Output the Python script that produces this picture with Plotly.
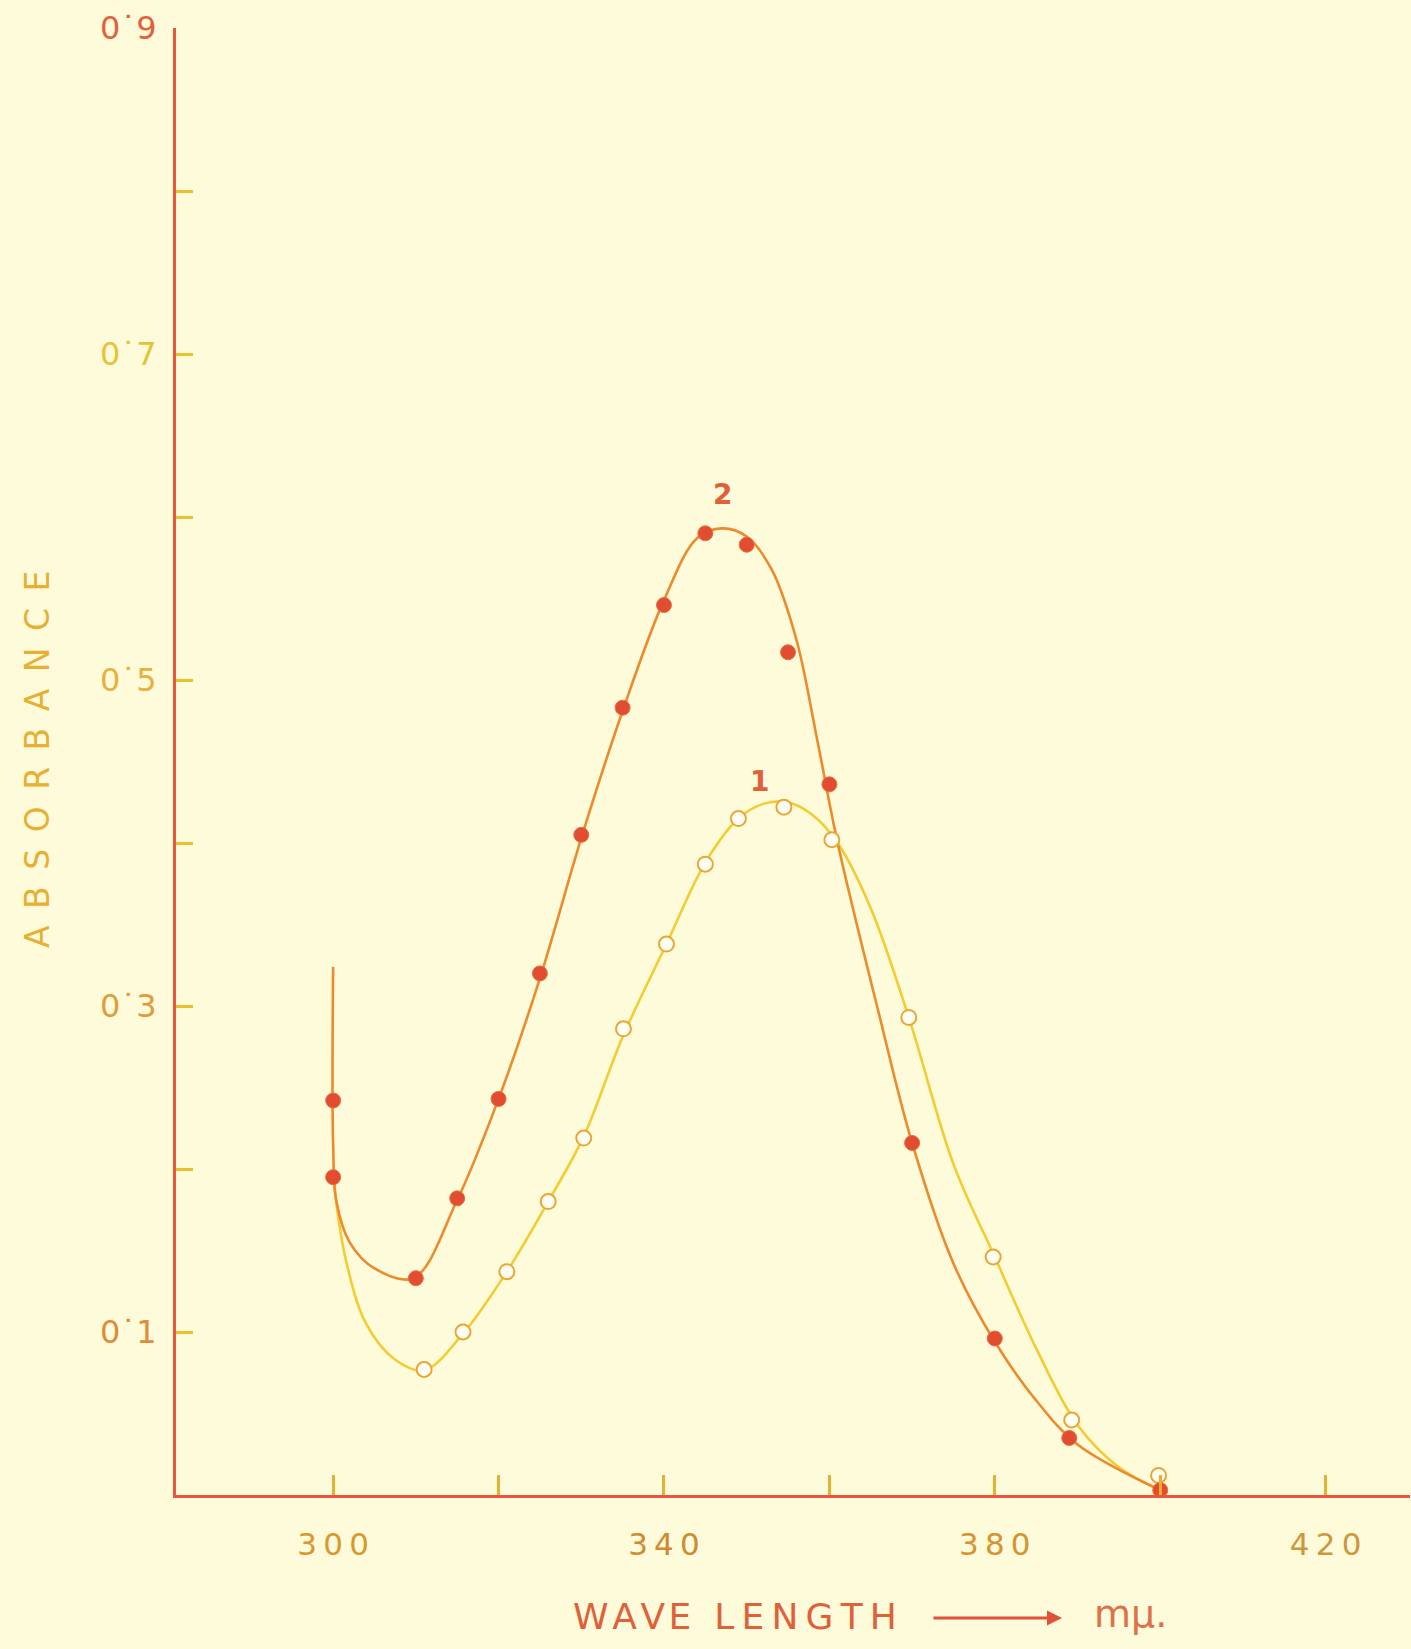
import plotly.graph_objects as go

# ---- data ----
# Curve 2 (filled dots)
c2_x = [300, 300, 310, 315, 320, 325, 330, 335, 340, 345, 350, 355, 360, 370, 380, 389, 400]
c2_y = [0.242, 0.195, 0.133, 0.182, 0.243, 0.320, 0.405, 0.483, 0.546, 0.590, 0.583, 0.517, 0.436, 0.216, 0.096, 0.035, 0.003]
# Curve 1 (open circles)
c1_x = [311, 315.7, 321, 326, 330.3, 335.1, 340.3, 345, 349, 354.5, 360.3, 369.6, 379.8, 389.3, 399.8]
c1_y = [0.077, 0.100, 0.137, 0.180, 0.219, 0.286, 0.338, 0.387, 0.415, 0.422, 0.402, 0.293, 0.146, 0.046, 0.012]

# hand-drawn fitted lines
c2_line_x = [300.0, 300.0, 300.4, 302.0, 305.0, 309.7, 315.0, 320.0, 325.0, 330.0, 335.0, 340.0, 344.0,
             347.0, 350.0, 353.0, 356.0, 358.5, 361.0, 366.0, 370.0, 375.0, 380.0, 385.0, 390.0, 400.0]
c2_line_y = [0.324, 0.215, 0.180, 0.155, 0.139, 0.133, 0.181, 0.243, 0.317, 0.403, 0.481, 0.549, 0.587,
             0.593, 0.588, 0.568, 0.525, 0.464, 0.400, 0.295, 0.216, 0.142, 0.094, 0.058, 0.031, 0.003]
c1_line_x = [300.0, 301.5, 304.0, 307.5, 311.0, 315.7, 321.0, 326.0, 330.3, 335.0, 340.3, 345.0, 349.0,
             352.0, 355.0, 358.0, 361.0, 365.0, 369.6, 375.0, 380.0, 385.0, 390.0, 395.0, 400.0]
c1_line_y = [0.195, 0.145, 0.105, 0.083, 0.0765, 0.099, 0.137, 0.180, 0.220, 0.281, 0.338, 0.388, 0.415,
             0.424, 0.425, 0.417, 0.400, 0.360, 0.293, 0.203, 0.146, 0.090, 0.043, 0.017, 0.003]

x_tickvals = [300, 320, 340, 360, 380, 400, 420]
x_ticktext = ["300", "", "340", "", "380", "", "420"]
y_tickvals = [0.1, 0.2, 0.3, 0.4, 0.5, 0.6, 0.7, 0.8, 0.9]
y_ticktext = ["0˙1", "", "0˙3", "", "0˙5", "", "0˙7", "", "0˙9"]
y_label_colors = ["#E08A3A", None, "#E39A3A", None, "#E8B040", None, "#E8C236", None, "#E4603C"]
x_label_colors = ["#D8982E", None, "#D08A30", None, "#D8922E", None, "#D0963A"]

BG = "#FEFBDA"
AXIS = "#E8573C"
FONT = "DejaVu Sans"
W, H = 1411, 1649
ML, MR, MT, MB = 176, 1, 28, 154

fig = go.Figure()
fig.add_trace(go.Scatter(x=c1_line_x, y=c1_line_y, mode="lines",
                         line=dict(color="#F2CC30", width=2.6, shape="spline", smoothing=1.0),
                         hoverinfo="skip", showlegend=False))
fig.add_trace(go.Scatter(x=c2_line_x, y=c2_line_y, mode="lines",
                         line=dict(color="#EC8A2C", width=2.6, shape="spline", smoothing=1.0),
                         hoverinfo="skip", showlegend=False))
fig.add_trace(go.Scatter(x=c1_x, y=c1_y, mode="markers",
                         marker=dict(symbol="circle", size=15, color="#FFFEF2",
                                     line=dict(color="#E9A636", width=2)),
                         showlegend=False))
fig.add_trace(go.Scatter(x=c2_x, y=c2_y, mode="markers",
                         marker=dict(symbol="circle", size=15, color="#E24C30",
                                     line=dict(color="#E8703A", width=1)),
                         showlegend=False))

def spaced(t, sep):
    return sep.join(list(t))

y_text = [f'<span style="color:{c}">{t}</span>' if t else "" for t, c in zip(y_ticktext, y_label_colors)]
x_text = [f'<span style="color:{c}">{spaced(t, chr(0x2009))}</span>' if t else "" for t, c in zip(x_ticktext, x_label_colors)]

fig.update_xaxes(range=[281, 430.2], showgrid=False, zeroline=False,
                 showline=True, linecolor=AXIS, linewidth=3,
                 ticks="inside", ticklen=20, tickwidth=2.5, tickcolor="#E8B030",
                 tickvals=x_tickvals, ticktext=x_text,
                 tickfont=dict(family=FONT, size=31, color="#D8922E"),
                 ticklabelstandoff=20)
fig.update_yaxes(range=[0, 0.9], showgrid=False, zeroline=False,
                 showline=True, linecolor=AXIS, linewidth=3,
                 ticks="inside", ticklen=17, tickwidth=2.5, tickcolor="#E8C030",
                 tickvals=y_tickvals, ticktext=y_text,
                 tickfont=dict(family=FONT, size=32, color="#E0903A"),
                 ticklabelstandoff=10)

pw = W - ML - MR
ph = H - MT - MB
def px(x):
    return (x - ML) / pw
def py(y):
    return 1 - (y - MT) / ph

annotations = [
    dict(text=spaced("ABSORBANCE", "\u2002"), x=px(37), y=py(760), xref="paper", yref="paper",
         showarrow=False, textangle=-90, xanchor="center", yanchor="middle",
         font=dict(family=FONT, size=33, color="#E8B032")),
    dict(text=spaced("WAVE", "\u200a") + "  " + spaced("LENGTH", "\u2009"),
         x=px(571), y=py(1616), xref="paper", yref="paper",
         showarrow=False, xanchor="left", yanchor="middle",
         font=dict(family=FONT, size=36, color="#E0603A")),
    dict(text="mμ.", x=px(1130), y=py(1614), xref="paper", yref="paper",
         showarrow=False, xanchor="center", yanchor="middle",
         font=dict(family=FONT, size=38, color="#E07048")),
    dict(text="", x=px(1062), y=py(1618), xref="paper", yref="paper",
         ax=-130, ay=0, showarrow=True, arrowhead=2, arrowsize=1.0, arrowwidth=3,
         arrowcolor="#E0503A"),
    dict(text="<b>2</b>", x=347.1, y=0.614, xref="x", yref="y", showarrow=False,
         font=dict(family=FONT, size=28, color="#E0603A")),
    dict(text="<b>1</b>", x=351.6, y=0.438, xref="x", yref="y", showarrow=False,
         font=dict(family=FONT, size=28, color="#E0603A")),
]
fig.update_layout(
    width=W, height=H,
    margin=dict(l=ML, r=MR, t=MT, b=MB),
    paper_bgcolor=BG, plot_bgcolor=BG,
    annotations=annotations,
    showlegend=False,
)
fig.write_html("out.html", config={"displayModeBar": False},
               post_script="document.body.style.margin='0';document.body.style.background='%s';" % BG)
